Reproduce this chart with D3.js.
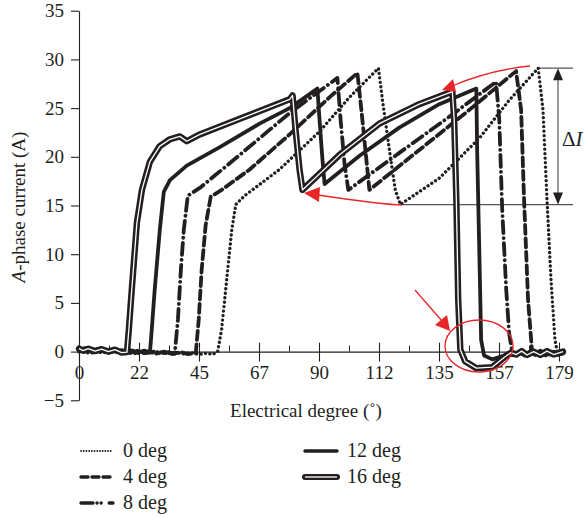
<!DOCTYPE html>
<html>
<head>
<meta charset="utf-8">
<script src="https://cdn.jsdelivr.net/npm/d3@7"></script>
<style>
  body { margin: 0; background: #fff; }
  text { font-family: "Liberation Serif", "Times New Roman", serif; fill: #231f20; }
</style>
</head>
<body>
<div id="chart"></div>
<script>

// tick values / labels
var xTicks = [0, 22.5, 45, 67.5, 90, 112.5, 135, 157.5, 180]
var xTickLabels = ["0", "22", "45", "67", "90", "112", "135", "157", "179"]
var xMinor = [11.25, 33.75, 56.25, 78.75, 101.25, 123.75, 146.25, 168.75]
var yTicks = [-5, 0, 5, 10, 15, 20, 25, 30, 35]

// A-phase current [electrical degree, A]
var curve0 = [[0, 0.1], [3, -0.15], [6, 0.1], [9, -0.15], [12, 0.1], [15, -0.1], [18, 0.1], [21, -0.2], [24, 0], [27, -0.15],
  [30, 0], [33, -0.2], [36, -0.05], [39, -0.25], [42, -0.1], [45, -0.3], [48, -0.15], [50, -0.3], [52, 0],
  [53.5, 2.3], [55.4, 7.4], [57.3, 12.5], [58.8, 15.1], [62.1, 16.0], [75.2, 18.7], [90.2, 22.6], [101.4, 26.1], [112.3, 29.1],
  [113.8, 25.8], [116.4, 20.7], [118.6, 16.6], [120.5, 15.1], [135.1, 17.8], [150.1, 21.9], [161.3, 25.8], [172.2, 29.1],
  [174, 24.8], [175.5, 15.6], [177, 7.4], [178.5, 1.2], [179.3, 0]]

var curve4 = [[0, 0], [2.5, 0.2], [5, -0.1], [8, 0.15], [11, -0.1], [14, 0.15], [17, -0.15], [20, 0.1], [23, -0.2], [26, 0],
  [29, -0.2], [32, 0], [35, -0.25], [38, -0.05], [41, -0.25], [43.8, -0.15],
  [44.9, 3.3], [46, 8.4], [47.5, 13], [49.4, 15.9], [53.5, 16.6], [64, 18.7], [79, 22.3], [93.9, 26.1], [104.4, 28.6],
  [105.9, 24.8], [107.4, 20.7], [108.9, 16.6], [127.6, 20.7], [146.3, 24.8], [163.9, 28.8],
  [165.8, 24.8], [166.9, 15.6], [168.4, 5.3], [169.9, 0], [171, -0.3], [173, 0.1], [175, -0.3], [177, 0], [179, -0.35], [181.5, -0.1]]

var curve8 = [[0, 0.25], [2, 0], [4.5, 0.2], [7, -0.05], [10, 0.15], [13, -0.1], [16, 0.15], [19, -0.15], [22, 0.1], [25, -0.15],
  [28, 0], [31, -0.2], [33.5, -0.05], [35.9, -0.2],
  [37.1, 3.3], [38.2, 8.4], [39.3, 12.5], [40.8, 16.0], [45.3, 16.8], [60.3, 20.2], [79, 24.5], [96.9, 28.1],
  [98.1, 23.8], [99.6, 19.2], [101, 16.6], [120.1, 20.4], [138.8, 24.1], [156.4, 27.7],
  [157.6, 23.8], [158.7, 14.6], [160.2, 6.4], [161.3, 1.9], [162.4, 0], [164, -0.35], [166, 0], [168, -0.35], [170, 0.1],
  [172, -0.3], [174, 0], [176, -0.4], [178, 0], [180, -0.3], [181.5, -0.1]]

var curve12 = [[0, 0.15], [2, 0.35], [4.5, 0.05], [7, 0.25], [10, -0.05], [13, 0.2], [16, -0.1], [19, 0.15], [22, -0.1], [24.5, 0.1], [26.6, -0.1],
  [27.3, 2.3], [28.4, 6.4], [30.3, 12.5], [31.8, 16.4], [34.1, 17.6], [40.4, 19.1], [52.8, 21], [67.7, 23.4], [79, 25.0], [89.4, 27.0],
  [90.2, 23.8], [91.3, 19.7], [92.1, 17.2], [105.2, 20.1], [120.1, 23.0], [135.1, 25.4], [149, 27.0],
  [149.3, 20.7], [150.1, 10.5], [150.8, 1.2], [151.9, -0.4], [155, -0.8], [159.4, -0.4], [161.3, -0.1], [163, -0.4], [165, -0.05],
  [167, -0.4], [169, 0], [171, -0.35], [173, -0.05], [175, -0.4], [177, 0], [179, -0.3], [181.5, -0.2]]

var curve16 = [[0, 0.3], [1.5, 0.1], [3.5, 0.3], [6, 0.05], [8.5, 0.25], [11, 0], [13.5, 0.2], [16, -0.1], [18, -0.05],
  [18.7, 2.3], [19.8, 6.4], [21.7, 13.2], [23.6, 16.6], [26.6, 19.5], [30.3, 21.1], [34.1, 21.8], [37.8, 22.1], [40.4, 21.6],
  [45.3, 22.3], [60.3, 23.9], [79, 25.9], [80.1, 26.3],
  [81.2, 22.8], [82.7, 18.7], [83.8, 16.6], [97.7, 20.2], [112.6, 23.4], [127.6, 25.4], [140, 26.7],
  [140.7, 23.8], [141.5, 15.6], [142.2, 5.3], [143, 0.2], [144.8, -1.0], [149, -1.7], [154.9, -1.6], [159.4, -0.6], [162, -0.1],
  [164, -0.3], [166, 0.05], [168, -0.35], [170.5, 0], [173, -0.35], [175.5, 0.05], [178, -0.3], [181.5, 0]]

var names = ["0 deg", "4 deg", "8 deg", "12 deg", "16 deg"]

var ink = "#231f20",
    red = "#e8262a"

var width = 585,
    height = 517

var svg = d3.select("#chart")
  .append("svg")
  .attr("width", width)
  .attr("height", height)

var x = d3.scaleLinear()
  .domain([0, 180])
  .range([79, 559])

var y = d3.scaleLinear()
  .domain([-5, 35])
  .range([400.3, 10.7])

// y axis
var yAxis = svg.append("g")
  .attr("transform", "translate(" + x(0) + ",0)")
  .call(d3.axisLeft(y).tickValues(yTicks).tickSize(8).tickSizeOuter(0).tickPadding(7))
yAxis.selectAll("text").style("font-size", "19px").style("font-family", null).attr("fill", ink)
  .text(function(d) { return d < 0 ? "\u2212" + Math.abs(d) : d })
yAxis.selectAll("line, path").attr("stroke", ink).attr("stroke-width", 1.1)

// x axis (through y = 0)
var xAxis = svg.append("g")
  .attr("transform", "translate(0," + y(0) + ")")
  .call(d3.axisBottom(x).tickValues(xTicks).tickFormat(function(d, i) { return xTickLabels[i] })
    .tickSize(10).tickSizeOuter(0).tickPadding(4))
xAxis.selectAll(".tick line").attr("y1", -9)
xAxis.selectAll("text").style("font-size", "19px").style("font-family", null).attr("fill", ink)
xAxis.selectAll("line, path").attr("stroke", ink).attr("stroke-width", 1.1)

var xMinorAxis = svg.append("g")
  .attr("transform", "translate(0," + y(0) + ")")
  .call(d3.axisTop(x).tickValues(xMinor).tickSize(6).tickFormat(""))
xMinorAxis.select(".domain").remove()
xMinorAxis.selectAll("line").attr("stroke", ink).attr("stroke-width", 1)

// axis titles
svg.append("text")
  .attr("transform", "translate(25," + 207 + ") rotate(-90)")
  .attr("text-anchor", "middle")
  .style("font-size", "19px")
  .html('<tspan font-style="italic">A</tspan>-phase current (A)')

svg.append("text")
  .attr("x", 306)
  .attr("y", 417)
  .attr("text-anchor", "middle")
  .style("font-size", "19px")
  .text("Electrical degree (\u02da)")

// delta I guide lines
svg.append("line").attr("x1", 537).attr("x2", 573).attr("y1", y(29.1)).attr("y2", y(29.1))
  .attr("stroke", "#555").attr("stroke-width", 1.2)
svg.append("line").attr("x1", 401).attr("x2", 573).attr("y1", y(15.1)).attr("y2", y(15.1))
  .attr("stroke", "#555").attr("stroke-width", 1.2)
svg.append("line").attr("x1", 558).attr("x2", 558).attr("y1", y(29.1) + 10).attr("y2", y(15.1) - 10)
  .attr("stroke", "#555").attr("stroke-width", 1.2)
svg.append("path")
  .attr("d", "M558," + y(29.1) + "l-5,12h10z M558," + y(15.1) + "l-5,-12h10z")
  .attr("fill", ink)
svg.append("text")
  .attr("x", 562)
  .attr("y", 146)
  .style("font-size", "21px")
  .html('\u0394<tspan font-style="italic">I</tspan>')

// curves
var line = d3.line()
  .x(function(d) { return x(d[0]) })
  .y(function(d) { return y(d[1]) })

var styles = [
  { data: curve0, dash: "0.1 4.4", w: 3.3 },
  { data: curve4, dash: "9 4.5", w: 3.8 },
  { data: curve8, dash: "12 5 0.1 5", w: 3.8 },
  { data: curve12, dash: null, w: 3.8 },
  { data: curve16, dash: null, w: 6.4 }
]

svg.selectAll(".curve")
  .data(styles)
  .enter().append("path")
  .attr("class", "curve")
  .attr("d", function(d) { return line(d.data) })
  .attr("fill", "none")
  .attr("stroke", ink)
  .attr("stroke-width", function(d) { return d.w })
  .attr("stroke-dasharray", function(d) { return d.dash })
  .attr("stroke-linecap", "round")
  .attr("stroke-linejoin", "round")

// white core for the 16 deg double line
svg.append("path")
  .attr("d", line(curve16))
  .attr("fill", "none")
  .attr("stroke", "#fff")
  .attr("stroke-width", 1.3)
  .attr("stroke-linejoin", "round")

// red annotations
svg.append("path")
  .attr("d", "M530,66 Q490,70 452,86")
  .attr("fill", "none").attr("stroke", red).attr("stroke-width", 1.3)
svg.append("path").attr("d", "M442,90 L453,79 L456,92 Z").attr("fill", red)

svg.append("path")
  .attr("d", "M402,205 Q385,205 318,195")
  .attr("fill", "none").attr("stroke", red).attr("stroke-width", 1.3)
svg.append("path").attr("d", "M304,193 L320,187 L319,202 Z").attr("fill", red)

svg.append("line").attr("x1", 415).attr("y1", 290).attr("x2", 442).attr("y2", 321)
  .attr("stroke", red).attr("stroke-width", 1.3)
svg.append("path").attr("d", "M450,331 L435,325 L447,315 Z").attr("fill", red)

svg.append("ellipse")
  .attr("cx", 479).attr("cy", 346).attr("rx", 34).attr("ry", 26)
  .attr("fill", "none").attr("stroke", red).attr("stroke-width", 1.3)

// legend
var legendPos = [[80, 457], [80, 483], [80, 509], [304, 457], [304, 483]]
var legendDash = ["0.1 2.6", "7 4", "12 4 0.1 4 0.1 8", null, null]
var legendWidth = [1.8, 3.4, 3.4, 3.4, 6]

var legend = svg.selectAll(".legend")
  .data(names)
  .enter().append("g")
  .attr("class", "legend")
  .attr("transform", function(d, i) { return "translate(" + legendPos[i][0] + "," + legendPos[i][1] + ")" })

legend.append("line")
  .attr("x1", 1).attr("x2", 33).attr("y1", -6).attr("y2", -6)
  .attr("stroke", ink)
  .attr("stroke-width", function(d, i) { return legendWidth[i] })
  .attr("stroke-dasharray", function(d, i) { return legendDash[i] })
  .attr("stroke-linecap", "round")

legend.filter(function(d, i) { return i == 4 })
  .append("line")
  .attr("x1", 1).attr("x2", 33).attr("y1", -6).attr("y2", -6)
  .attr("stroke", "#fff").attr("stroke-width", 1.3)

legend.append("text")
  .attr("x", 43)
  .style("font-size", "20px")
  .text(function(d) { return d })

</script>
</body>
</html>
